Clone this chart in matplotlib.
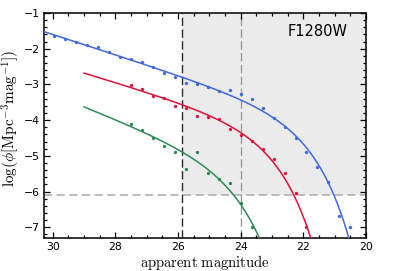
import numpy as np
import matplotlib
matplotlib.use("Agg")
import matplotlib.pyplot as plt
from matplotlib.ticker import MultipleLocator

plt.rcParams['mathtext.fontset'] = 'cm'
plt.rcParams['font.family'] = ['DejaVu Sans']

# ---- data ----
blue_mag = [29.95, 29.60, 29.25, 28.90, 28.55, 28.20, 27.85, 27.50, 27.15, 26.80,
            26.45, 26.10, 25.75, 25.40, 25.05, 24.70, 24.35, 24.00, 23.65, 23.30,
            22.95, 22.60, 22.25, 21.90, 21.55, 21.20, 20.85, 20.50]
blue_logphi = [-1.63, -1.72, -1.80, -1.89, -1.96, -2.10, -2.23, -2.28, -2.38, -2.51,
               -2.67, -2.79, -2.95, -3.00, -3.07, -3.18, -3.16, -3.28, -3.41, -3.66,
               -3.94, -4.19, -4.49, -4.90, -5.32, -5.74, -6.69, -7.00]

red_mag = [27.50, 27.15, 26.80, 26.45, 26.10, 25.75, 25.40, 25.05, 24.70, 24.35,
           24.00, 23.65, 23.30, 22.95, 22.60, 22.25, 21.90]
red_logphi = [-3.02, -3.13, -3.32, -3.39, -3.61, -3.655, -3.87, -3.90, -3.96, -4.25,
              -4.41, -4.58, -4.80, -5.08, -5.49, -6.03, -7.00]

green_mag = [27.50, 27.15, 26.80, 26.45, 26.10, 25.75, 25.40, 25.05, 24.70, 24.35,
             24.00, 23.65]
green_logphi = [-4.10, -4.28, -4.50, -4.72, -4.90, -5.37, -4.90, -5.49, -5.645, -5.77,
                -6.31, -7.00]

# Schechter fit parameters (estimated from the drawn curves)
series_names = ['blue', 'red', 'green']
m_star = [22.65, 23.75, 24.9]
alpha = [-1.7125, -1.6625, -1.875]
log_phi_star = [-3.659, -4.035, -5.019]
fit_faint_limit = [30.5, 29.0, 29.0]

colors = ['#4169e1', '#dc143c', '#2e8b57']

depth_black = 25.88
depth_gray = 24.0
phi_limit = -6.11
label = 'F1280W'

xticks = [30, 28, 26, 24, 22, 20]
yticks = [-1, -2, -3, -4, -5, -6, -7]


def schechter_log(m, ms, a, lps):
    u = 0.4 * (ms - m)
    return np.log10(0.4 * np.log(10)) + lps + (a + 1) * u - 10 ** u / np.log(10)


fig = plt.figure(figsize=(4.07, 2.71), dpi=100)
ax = fig.add_axes([0.1081, 0.1218, 0.7912, 0.8302])

# shaded region
ax.fill_between([depth_black, 20.0], [phi_limit, phi_limit], [-1, -1],
                color='#ebebeb', zorder=0, linewidth=0)
ax.axhline(phi_limit, color='#b5b5b5', lw=1.3, ls=(0, (4.5, 2.5)), zorder=1)
ax.axvline(depth_black, color='#2a2a2a', lw=1.0, ls=(0, (6, 2.5)), zorder=1)
ax.axvline(depth_gray, color='#9a9a9a', lw=1.0, ls=(0, (6, 2.5)), zorder=1)

mags_pts = [blue_mag, red_mag, green_mag]
vals_pts = [blue_logphi, red_logphi, green_logphi]
for i in range(3):
    mm = np.linspace(19.5, fit_faint_limit[i], 600)
    ax.plot(mm, schechter_log(mm, m_star[i], alpha[i], log_phi_star[i]),
            color=colors[i], lw=1.1, zorder=3)
    ax.plot(mags_pts[i], vals_pts[i], 'o', color=colors[i], ms=2.4,
            mec='none', zorder=4)

ax.set_xlim(30.28, 20)
ax.set_ylim(-7.3, -1)
ax.set_xticks(xticks)
ax.set_yticks(yticks)
ax.xaxis.set_minor_locator(MultipleLocator(0.5))
ax.yaxis.set_minor_locator(MultipleLocator(0.2))
ax.tick_params(which='both', direction='in', top=True, right=True,
               labelsize=7.8, width=0.9)
ax.tick_params(which='major', length=4.5, pad=3)
ax.tick_params(which='minor', length=2.5)
for s in ax.spines.values():
    s.set_linewidth(1.1)

ax.text(0.944, 0.92, label, transform=ax.transAxes, ha='right', va='center',
        fontsize=10.5)

ax.set_xlabel(r'$\mathrm{apparent\ magnitude}$', fontsize=10.5)
ax.xaxis.set_label_coords(0.5, -0.066)
ax.set_ylabel(r'$\log(\phi[\mathrm{Mpc}^{-3}\mathrm{mag}^{-1}])$', fontsize=11)
ax.yaxis.set_label_coords(-0.068, 0.53)

fig.savefig('out.png', dpi=100)
